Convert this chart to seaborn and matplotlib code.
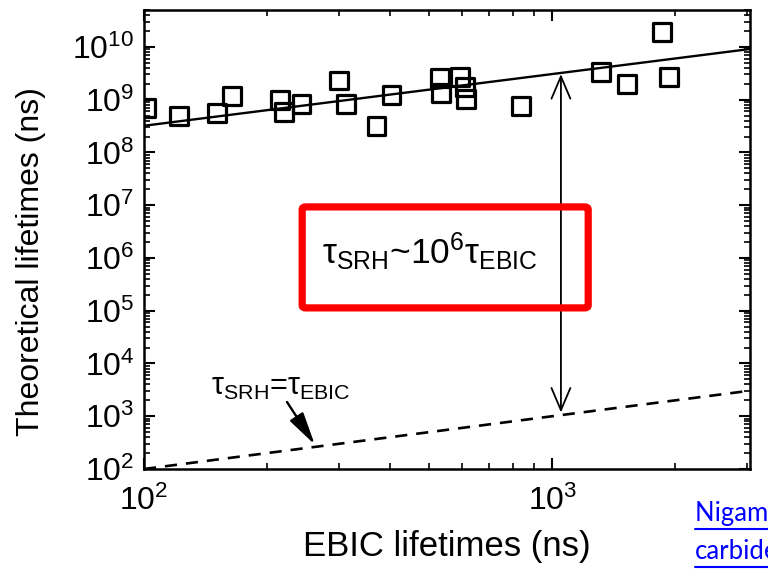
import numpy as np
import pandas as pd
import matplotlib
matplotlib.use("Agg")
import matplotlib.pyplot as plt
from matplotlib.patches import FancyBboxPatch
from matplotlib.lines import Line2D
from matplotlib.ticker import LogLocator, NullFormatter
import seaborn as sns

# Measured lifetimes (ns)
ebic_lifetime = [101, 122, 151, 164, 215, 220, 243, 301, 313, 371, 404,
                 530, 535, 593, 612, 616, 839, 1318, 1524, 1858, 1932]
srh_lifetime = [7.0e8, 4.9e8, 5.6e8, 1.17e9, 9.9e8, 5.9e8, 8.3e8, 2.3e9, 8.3e8, 3.2e8, 1.23e9,
                2.6e9, 1.35e9, 2.7e9, 1.74e9, 1.02e9, 7.6e8, 3.4e9, 2.0e9, 1.9e10, 2.7e9]

# Power-law fit through the data: tau_SRH = fit_at_100 * (tau_EBIC / 100) ** fit_slope
fit_at_100 = 3.2e8
fit_slope = 0.98

x_range = [100, 3050]
y_range = [100, 5e10]
arrow_x = 1050

sns.set_theme(style="ticks")
plt.rcParams["font.family"] = ["Liberation Sans", "DejaVu Sans"]
plt.rcParams["mathtext.fontset"] = "custom"
plt.rcParams["mathtext.rm"] = "Liberation Sans"
plt.rcParams["mathtext.it"] = "Liberation Sans"
plt.rcParams["mathtext.bf"] = "Liberation Sans:bold"
for key in ("text.color", "axes.labelcolor", "xtick.color", "ytick.color", "axes.edgecolor"):
    plt.rcParams[key] = "black"

fig = plt.figure(figsize=(7.68, 5.70), dpi=100)
ax = fig.add_axes([144 / 768, 1 - 469 / 570, (750 - 144) / 768, (469 - 10) / 570])

data = pd.DataFrame({"ebic": ebic_lifetime, "srh": srh_lifetime})

fit_x = np.geomspace(x_range[0], x_range[1], 60)
fit_df = pd.DataFrame({"x": fit_x, "y": fit_at_100 * (fit_x / 100) ** fit_slope})
sns.lineplot(data=fit_df, x="x", y="y", ax=ax, color="black", linewidth=1.7)

ident_df = pd.DataFrame({"x": fit_x, "y": fit_x})
sns.lineplot(data=ident_df, x="x", y="y", ax=ax, color="black", linewidth=1.9)
ax.lines[-1].set_dashes((4.6, 3.4))

sns.scatterplot(data=data, x="ebic", y="srh", ax=ax, marker="s", s=165,
                facecolor="none", edgecolor="black", linewidth=2.3, zorder=3)

ax.set_xscale("log")
ax.set_yscale("log")
ax.set_xlim(*x_range)
ax.set_ylim(*y_range)

ax.xaxis.set_major_locator(LogLocator(base=10, numticks=20))
ax.xaxis.set_minor_locator(LogLocator(base=10, subs=np.arange(2, 10), numticks=20))
ax.yaxis.set_major_locator(LogLocator(base=10, numticks=20))
ax.yaxis.set_minor_locator(LogLocator(base=10, subs=np.arange(2, 10), numticks=20))
ax.xaxis.set_minor_formatter(NullFormatter())
ax.yaxis.set_minor_formatter(NullFormatter())

ax.tick_params(which="both", direction="in", top=True, right=True, colors="black",
               labelsize=23)
ax.tick_params(which="major", length=8, width=1.5)
ax.tick_params(which="minor", length=4.5, width=1.2)
ax.tick_params(axis="y", pad=7)
ax.tick_params(axis="x", pad=12)
for sp in ax.spines.values():
    sp.set_linewidth(1.8)
    sp.set_color("black")

ax.set_xlabel("EBIC lifetimes (ns)", fontsize=25)
ax.set_ylabel("Theoretical lifetimes (ns)", fontsize=23)
ax.xaxis.set_label_coords(0.5, -0.168)
ax.yaxis.set_label_coords(-0.186, 0.451)
ax.xaxis.label.set_va("center")
ax.yaxis.label.set_va("center")

# Double-headed arrow spanning the gap between the fit and the identity line
fit_at_arrow = fit_at_100 * (arrow_x / 100) ** fit_slope
ax.annotate("", xy=(arrow_x, arrow_x * 1.12), xytext=(arrow_x, fit_at_arrow * 0.95),
            arrowprops=dict(arrowstyle="<->, head_length=0.8, head_width=0.34",
                            mutation_scale=20, color="black", lw=1.3,
                            shrinkA=0, shrinkB=0))

# Label for the identity line, with a pointer to the dashed line
ax.text(216, 3550, r"τ$_{\mathrm{SRH}}$=τ$_{\mathrm{EBIC}}$", fontsize=22,
        ha="center", va="center")
ax.annotate("", xy=(262, 290), xytext=(224, 1860),
            arrowprops=dict(arrowstyle="-|>, head_length=1.0, head_width=0.24",
                            mutation_scale=20, color="black", lw=1.7,
                            shrinkA=0, shrinkB=0))

# Highlight box
box = FancyBboxPatch((0.261, 0.351), 0.733 - 0.261, 0.571 - 0.351,
                     boxstyle="round,pad=0,rounding_size=0.006",
                     transform=ax.transAxes, facecolor="none", edgecolor="#ff0000",
                     linewidth=5.2, zorder=5, clip_on=False)
ax.add_patch(box)
ax.text(0.472, 0.473, r"τ$_{\mathrm{SRH}}$~10$^6$τ$_{\mathrm{EBIC}}$",
        transform=ax.transAxes, fontsize=25.5, ha="center", va="center", zorder=6)

# Source link text
link_kw = dict(fontsize=18.5, color="#0000ff", family=["Lato", "DejaVu Sans"],
               ha="left", va="baseline")
fig.text(695 / 768, 1 - 521 / 570, "Nigam et al.,", **link_kw)
fig.text(695 / 768, 1 - 559 / 570, "carbide", **link_kw)
for yy in (529, 567):
    fig.add_artist(Line2D([695 / 768, 1.0], [1 - yy / 570, 1 - yy / 570],
                          transform=fig.transFigure, color="#0000ff", linewidth=1.5))

fig.savefig("out.png", dpi=100)
